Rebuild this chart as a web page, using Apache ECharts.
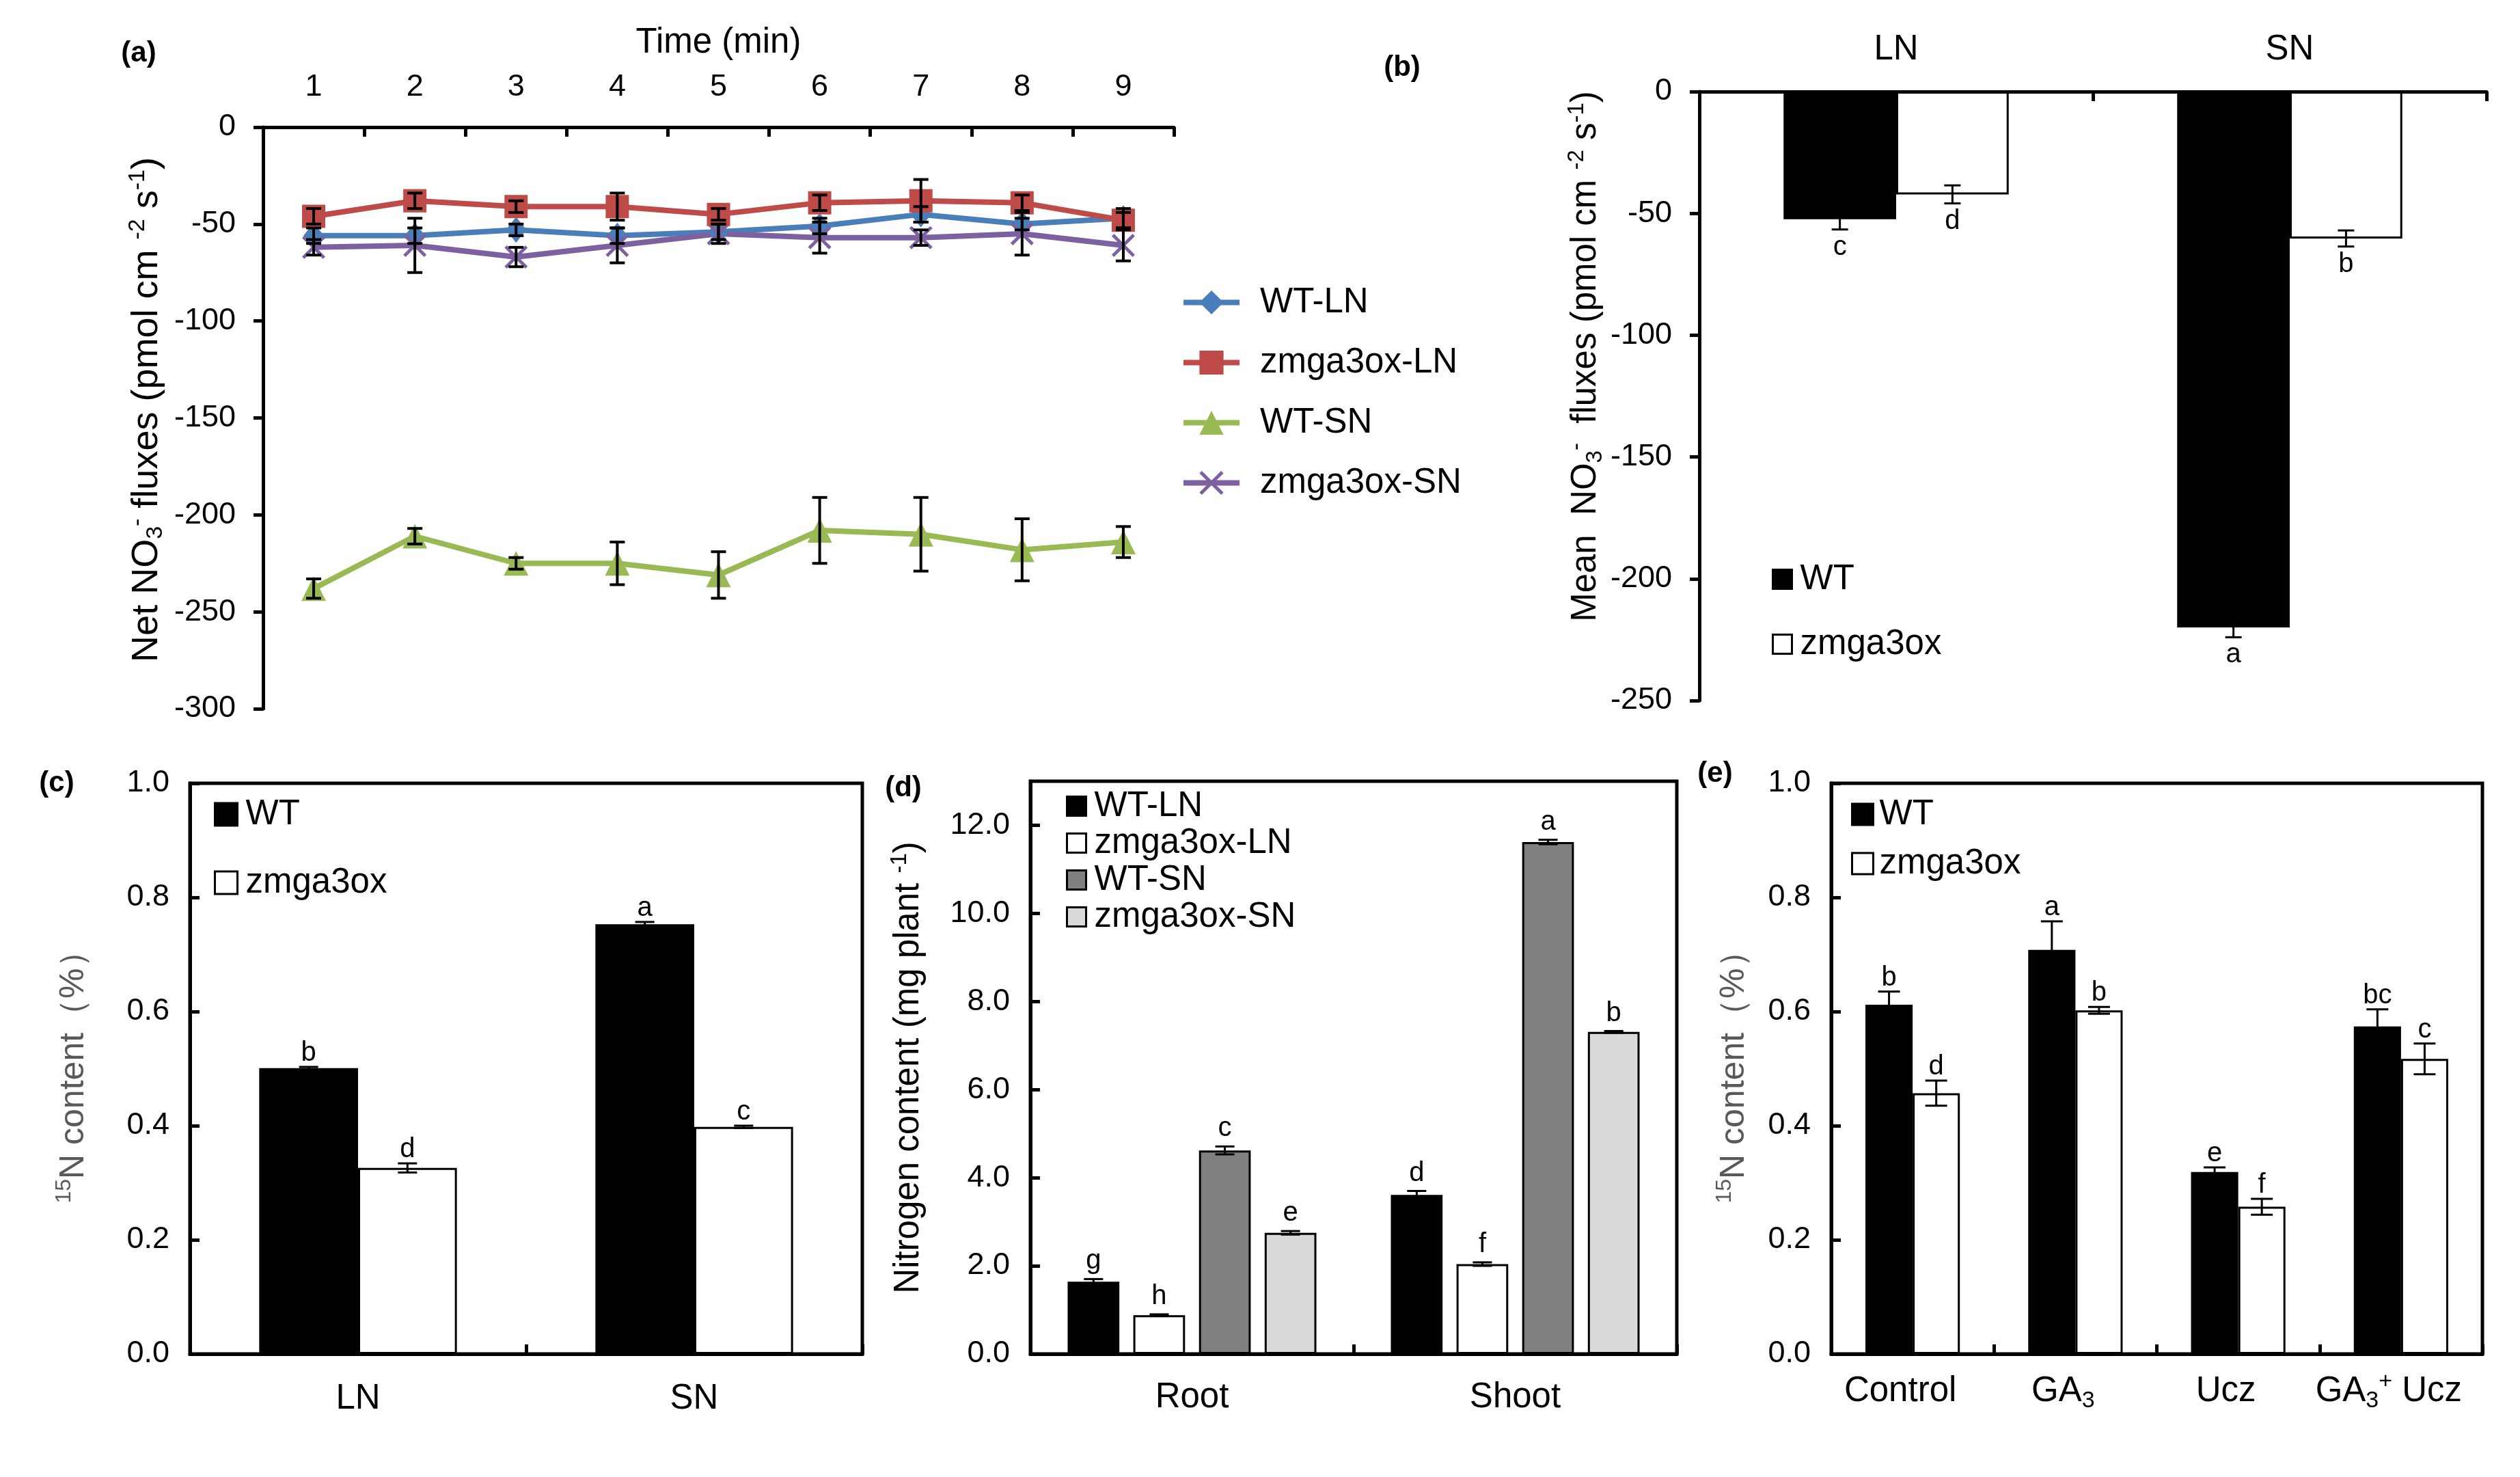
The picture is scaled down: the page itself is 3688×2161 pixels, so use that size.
<!DOCTYPE html>
<html><head><meta charset="utf-8">
<script src="https://cdn.jsdelivr.net/npm/echarts@6/dist/echarts.min.js"></script>
<style>html,body{margin:0;padding:0;background:#fff}#c{width:3688px;height:2161px}</style>
</head><body><div id="c"></div>
<script>
// ---------- data ----------
// (a) net NO3- flux time course
const timeLabels = ['1','2','3','4','5','6','7','8','9'];
const fluxWtLN = [-56, -56, -53, -56, -54, -51, -45, -50, -47];
const fluxZmLN = [-46, -38, -41, -41, -45, -39, -38, -39, -48];
const fluxWtSN = [-238, -211, -225, -225, -231, -208, -210, -218, -214];
const fluxZmSN = [-62, -61, -67, -61, -55, -57, -57, -55, -61];
const errWtLN = [4, 4, 3, 4, 4, 4, 4, 3, 5];
const errZmLN = [4, 4, 3, 7, 3, 4, 11, 4, 4];
const errWtSN = [5, 4, 3, 11, 12, 17, 19, 16, 8];
const errZmSN = [4, 14, 5, 9, 5, 8, 4, 11, 8];

// (b) mean NO3- flux
const bCats = ['LN', 'SN'];
const bWt = [-52.4, -220];
const bZm = [-42.2, -60.3];
const bErrWt = [4.2, 4];
const bErrZm = [3.7, 3.3];
const bLetWt = ['c', 'a'];
const bLetZm = ['d', 'b'];

// (c) 15N content
const cCats = ['LN', 'SN'];
const cWt = [0.501, 0.753];
const cZm = [0.326, 0.398];
const cErrWt = [0.002, 0.004];
const cErrZm = [0.008, 0.002];
const cLetWt = ['b', 'a'];
const cLetZm = ['d', 'c'];

// (d) nitrogen content
const dCats = ['Root', 'Shoot'];
const dWtLN = [1.64, 3.61];
const dZmLN = [0.88, 2.04];
const dWtSN = [4.62, 11.62];
const dZmSN = [2.75, 7.31];
const dErrWtLN = [0.06, 0.09];
const dErrZmLN = [0.02, 0.04];
const dErrWtSN = [0.09, 0.05];
const dErrZmSN = [0.04, 0.02];
const dLetWtLN = ['g', 'd'];
const dLetZmLN = ['h', 'f'];
const dLetWtSN = ['c', 'a'];
const dLetZmSN = ['e', 'b'];

// (e) 15N content with treatments
const eCats = ['Control', 'GA3', 'Ucz', 'GA3+Ucz'];
const eWt = [0.612, 0.708, 0.319, 0.574];
const eZm = [0.457, 0.602, 0.258, 0.517];
const eErrWt = [0.023, 0.05, 0.008, 0.03];
const eErrZm = [0.022, 0.006, 0.014, 0.027];
const eLetWt = ['b', 'a', 'e', 'bc'];
const eLetZm = ['d', 'b', 'f', 'c'];

// ---------- styling ----------
const FONT = '"Liberation Sans", Arial, Helvetica, sans-serif';
const FT = 45;   // tick labels
const FL = 51;   // legend / category / names
const AXW = 5;
const XMARK = 'path://M1,0 L5,4 L9,0 L10,1 L6,5 L10,9 L9,10 L5,6 L1,10 L0,9 L4,5 L0,1 Z';
function rich(color, fs) {
  fs = fs || 32;
  return {
    sub: {fontSize: fs, lineHeight: fs, verticalAlign: 'bottom', fontFamily: FONT, color: color},
    sup: {fontSize: fs, lineHeight: fs, verticalAlign: 'top', fontFamily: FONT, color: color}
  };
}

function errSeries(gi, vals, errs, letters, off, o) {
  const data = vals.map((v, i) => [i, v, errs[i]]);
  return {
    type: 'custom', xAxisIndex: gi, yAxisIndex: gi, z: 10, silent: true,
    data: data, encode: {x: 0, y: 1},
    renderItem: function (params, api) {
      const i = params.dataIndex;
      const ci = api.value(0), v = api.value(1), e = api.value(2);
      const bw = api.size([1, 0])[0];
      const x = api.coord([ci, v])[0] + off * bw;
      const yH = api.coord([ci, v + e])[1];
      const yL = api.coord([ci, v - e])[1];
      const st = {stroke: '#000', lineWidth: o.lw};
      const ch = [];
      if (e > 0) {
        ch.push({type: 'line', shape: {x1: x, y1: yH, x2: x, y2: yL}, style: st});
        ch.push({type: 'line', shape: {x1: x - o.cap, y1: yH, x2: x + o.cap, y2: yH}, style: st});
        ch.push({type: 'line', shape: {x1: x - o.cap, y1: yL, x2: x + o.cap, y2: yL}, style: st});
      }
      if (letters && letters[i]) {
        const neg = v < 0;
        ch.push({type: 'text', x: x, y: neg ? yL + o.gap : yH - o.gap,
          style: {text: letters[i], fill: '#000', fontSize: o.fs || 40, fontFamily: FONT,
            align: 'center', verticalAlign: neg ? 'top' : 'bottom',
            textAlign: 'center', textVerticalAlign: neg ? 'top' : 'bottom'}});
      }
      return {type: 'group', children: ch};
    }
  };
}

function catAxis(gi, cats, pos, extra) {
  return Object.assign({
    type: 'category', gridIndex: gi, data: cats, position: pos,
    axisLine: {show: true, onZero: false, lineStyle: {color: '#000', width: AXW}},
    axisTick: {show: true, inside: true, length: 14, lineStyle: {color: '#000', width: AXW}},
    axisLabel: {color: '#000', fontSize: FL, fontFamily: FONT, margin: 38, interval: 0},
    splitLine: {show: false}
  }, extra || {});
}
function valAxis(gi, min, max, interval, extra) {
  return Object.assign({
    type: 'value', gridIndex: gi, min: min, max: max, interval: interval,
    axisLine: {show: true, onZero: false, lineStyle: {color: '#000', width: AXW}},
    axisTick: {show: true, inside: false, length: 14, lineStyle: {color: '#000', width: AXW}},
    axisLabel: {color: '#000', fontSize: FT, fontFamily: FONT, margin: 40},
    splitLine: {show: false},
    nameLocation: 'middle', nameRotate: 90
  }, extra || {});
}

const whiteBar = {color: '#fff', borderColor: '#000', borderWidth: 3};
const blackBar = {color: '#000', borderColor: '#000', borderWidth: 3};
const greyBar = {color: '#808080', borderColor: '#000', borderWidth: 3};
const lightBar = {color: '#d9d9d9', borderColor: '#000', borderWidth: 3};
function legText(pad) { return {color: '#000', fontSize: FL, fontFamily: FONT, lineHeight: 50, padding: [0, 0, 0, pad]}; }
const strip = n => n.split(':').pop();
const fmt1 = v => v.toFixed(1);
const boxGrid = {show: true, borderColor: '#000', borderWidth: AXW, outerBoundsMode: 'none'};
const innerTick = {show: true, inside: true, length: 14, lineStyle: {color: '#000', width: AXW}};

const option = {
  backgroundColor: '#fff',
  animation: false,
  grid: [
    {left: 385, top: 186, width: 1333, height: 851, outerBoundsMode: 'none'},
    {left: 2487, top: 134, width: 1152, height: 891, outerBoundsMode: 'none'},
    Object.assign({left: 278, top: 1146, width: 984, height: 835}, boxGrid),
    Object.assign({left: 1508, top: 1143, width: 946, height: 838}, boxGrid),
    Object.assign({left: 2680, top: 1146, width: 953, height: 835}, boxGrid)
  ],
  xAxis: [
    catAxis(0, timeLabels, 'top', {name: 'Time (min)', nameLocation: 'middle', nameGap: 98,
      axisLabel: {color: '#000', fontSize: FT, fontFamily: FONT, margin: 36},
      nameTextStyle: {color: '#000', fontSize: FL, fontFamily: FONT}}),
    catAxis(1, bCats, 'top', {axisLabel: {color: '#000', fontSize: FL, fontFamily: FONT, margin: 36}}),
    catAxis(2, cCats, 'bottom', {axisLabel: {color: '#000', fontSize: FL, fontFamily: FONT, margin: 40}}),
    catAxis(3, dCats, 'bottom', {axisLabel: {color: '#000', fontSize: FL, fontFamily: FONT, margin: 38}}),
    catAxis(4, eCats, 'bottom', {axisLabel: {color: '#000', fontSize: FL, fontFamily: FONT, margin: 24, lineHeight: 62, interval: 0,
      padding: [0, 36, 0, 0],
      formatter: v => v === 'GA3' ? 'GA{sub|3}' : (v === 'GA3+Ucz' ? 'GA{sub|3}{sup|+} Ucz' : v),
      rich: rich('#000', 34)}})
  ],
  yAxis: [
    valAxis(0, -300, 0, 50, {
      name: 'Net NO{sub|3}{sup|-} fluxes (pmol cm {sup|-2} s{sup|-1})', nameGap: 140,
      nameTextStyle: {color: '#000', fontSize: 54, fontFamily: FONT, lineHeight: 60, padding: [0, 0, 0, 24], rich: rich('#000', 34)}}),
    valAxis(1, -250, 0, 50, {
      name: 'Mean  NO{sub|3}{sup|-}  fluxes (pmol cm {sup|-2} s{sup|-1})', nameGap: 136,
      nameTextStyle: {color: '#000', fontSize: 51, fontFamily: FONT, lineHeight: 60, padding: [0, 0, 0, 116], rich: rich('#000', 33)}}),
    valAxis(2, 0, 1, 0.2, {
      axisTick: innerTick,
      axisLabel: {color: '#000', fontSize: FT, fontFamily: FONT, margin: 30, formatter: fmt1},
      name: '{sup|15}N content（%）', nameGap: 140,
      nameTextStyle: {color: '#595959', fontSize: 50, fontFamily: FONT, lineHeight: 60, rich: rich('#595959', 32)}}),
    valAxis(3, 0, 13, 2, {
      axisTick: innerTick,
      axisLabel: {color: '#000', fontSize: FT, fontFamily: FONT, margin: 30, formatter: fmt1, showMaxLabel: false},
      name: 'Nitrogen content (mg plant {sup|-1})', nameGap: 148,
      nameTextStyle: {color: '#000', fontSize: 51, fontFamily: FONT, lineHeight: 60, rich: rich('#000', 33)}}),
    valAxis(4, 0, 1, 0.2, {
      axisTick: innerTick,
      axisLabel: {color: '#000', fontSize: FT, fontFamily: FONT, margin: 30, formatter: fmt1},
      name: '{sup|15}N content（%）', nameGap: 112,
      nameTextStyle: {color: '#595959', fontSize: 50, fontFamily: FONT, lineHeight: 60, rich: rich('#595959', 32)}})
  ],
  legend: [
    {data: ['WT-LN', 'zmga3ox-LN', 'WT-SN', 'zmga3ox-SN'], orient: 'vertical', left: 1728, top: 417, padding: 0,
      itemWidth: 82, itemHeight: 44, itemGap: 37, selectedMode: false, textStyle: legText(25),
      lineStyle: {width: 8}},
    {data: [{name: 'b:WT', itemStyle: blackBar}, {name: 'b:zmga3ox', itemStyle: whiteBar}], formatter: strip,
      orient: 'vertical', left: 2593, top: 822, padding: 0, icon: 'rect', itemWidth: 28, itemHeight: 28, itemGap: 44,
      selectedMode: false, textStyle: legText(7)},
    {data: [{name: 'c:WT', itemStyle: blackBar}, {name: 'c:zmga3ox', itemStyle: whiteBar}], formatter: strip,
      orient: 'vertical', left: 313, top: 1166, padding: 0, icon: 'rect', itemWidth: 33, itemHeight: 33, itemGap: 49,
      selectedMode: false, textStyle: legText(7)},
    {data: [{name: 'd:WT-LN', itemStyle: blackBar}, {name: 'd:zmga3ox-LN', itemStyle: whiteBar},
            {name: 'd:WT-SN', itemStyle: greyBar}, {name: 'd:zmga3ox-SN', itemStyle: lightBar}], formatter: strip,
      orient: 'vertical', left: 1560, top: 1154, padding: 0, icon: 'rect', itemWidth: 28, itemHeight: 28, itemGap: 3,
      selectedMode: false, textStyle: legText(7)},
    {data: [{name: 'e:WT', itemStyle: blackBar}, {name: 'e:zmga3ox', itemStyle: whiteBar}], formatter: strip,
      orient: 'vertical', left: 2709, top: 1166, padding: 0, icon: 'rect', itemWidth: 31, itemHeight: 31, itemGap: 21,
      selectedMode: false, textStyle: legText(4)}
  ],
  graphic: [
    {type: 'text', x: 203, y: 78, style: {text: '(a)', font: 'bold 42px ' + FONT, fill: '#000', align: 'center', verticalAlign: 'middle', textAlign: 'center', textVerticalAlign: 'middle'}},
    {type: 'text', x: 2052, y: 99, style: {text: '(b)', font: 'bold 42px ' + FONT, fill: '#000', align: 'center', verticalAlign: 'middle', textAlign: 'center', textVerticalAlign: 'middle'}},
    {type: 'text', x: 83, y: 1146, style: {text: '(c)', font: 'bold 42px ' + FONT, fill: '#000', align: 'center', verticalAlign: 'middle', textAlign: 'center', textVerticalAlign: 'middle'}},
    {type: 'text', x: 1322, y: 1153, style: {text: '(d)', font: 'bold 42px ' + FONT, fill: '#000', align: 'center', verticalAlign: 'middle', textAlign: 'center', textVerticalAlign: 'middle'}},
    {type: 'text', x: 2510, y: 1132, style: {text: '(e)', font: 'bold 42px ' + FONT, fill: '#000', align: 'center', verticalAlign: 'middle', textAlign: 'center', textVerticalAlign: 'middle'}}
  ],
  series: [
    // (a)
    {name: 'WT-LN', type: 'line', xAxisIndex: 0, yAxisIndex: 0, data: fluxWtLN, symbol: 'diamond', symbolSize: [30, 38],
      lineStyle: {color: '#4a7ebb', width: 8}, itemStyle: {color: '#4a7ebb'}, z: 3},
    {name: 'zmga3ox-LN', type: 'line', xAxisIndex: 0, yAxisIndex: 0, data: fluxZmLN, symbol: 'rect', symbolSize: 34,
      lineStyle: {color: '#be4b48', width: 8}, itemStyle: {color: '#be4b48'}, z: 4},
    {name: 'WT-SN', type: 'line', xAxisIndex: 0, yAxisIndex: 0, data: fluxWtSN, symbol: 'triangle', symbolSize: 36,
      lineStyle: {color: '#98b954', width: 8}, itemStyle: {color: '#98b954'}, z: 3},
    {name: 'zmga3ox-SN', type: 'line', xAxisIndex: 0, yAxisIndex: 0, data: fluxZmSN, symbol: XMARK, symbolSize: 34,
      lineStyle: {color: '#7d60a0', width: 8}, itemStyle: {color: '#7d60a0'}, z: 3},
    errSeries(0, fluxWtLN, errWtLN, null, 0, {lw: 4, cap: 11}),
    errSeries(0, fluxZmLN, errZmLN, null, 0, {lw: 4, cap: 11}),
    errSeries(0, fluxWtSN, errWtSN, null, 0, {lw: 4, cap: 11}),
    errSeries(0, fluxZmSN, errZmSN, null, 0, {lw: 4, cap: 11}),
    // (b)
    {name: 'b:WT', type: 'bar', xAxisIndex: 1, yAxisIndex: 1, data: bWt, barWidth: '28.6%', barGap: '0%', itemStyle: blackBar},
    {name: 'b:zmga3ox', type: 'bar', xAxisIndex: 1, yAxisIndex: 1, data: bZm, barWidth: '28.6%', barGap: '0%', itemStyle: whiteBar},
    errSeries(1, bWt, bErrWt, bLetWt, -0.143, {lw: 3, cap: 12, gap: 6}),
    errSeries(1, bZm, bErrZm, bLetZm, 0.143, {lw: 3, cap: 12, gap: 6}),
    // (c)
    {name: 'c:WT', type: 'bar', xAxisIndex: 2, yAxisIndex: 2, data: cWt, barWidth: '29.4%', barGap: '0%', itemStyle: blackBar},
    {name: 'c:zmga3ox', type: 'bar', xAxisIndex: 2, yAxisIndex: 2, data: cZm, barWidth: '29.4%', barGap: '0%', itemStyle: whiteBar},
    errSeries(2, cWt, cErrWt, cLetWt, -0.147, {lw: 3, cap: 14, gap: 0}),
    errSeries(2, cZm, cErrZm, cLetZm, 0.147, {lw: 3, cap: 14, gap: 0}),
    // (d)
    {name: 'd:WT-LN', type: 'bar', xAxisIndex: 3, yAxisIndex: 3, data: dWtLN, barWidth: '16%', barGap: '27%', itemStyle: blackBar},
    {name: 'd:zmga3ox-LN', type: 'bar', xAxisIndex: 3, yAxisIndex: 3, data: dZmLN, barWidth: '16%', barGap: '27%', itemStyle: whiteBar},
    {name: 'd:WT-SN', type: 'bar', xAxisIndex: 3, yAxisIndex: 3, data: dWtSN, barWidth: '16%', barGap: '27%', itemStyle: greyBar},
    {name: 'd:zmga3ox-SN', type: 'bar', xAxisIndex: 3, yAxisIndex: 3, data: dZmSN, barWidth: '16%', barGap: '27%', itemStyle: lightBar},
    errSeries(3, dWtLN, dErrWtLN, dLetWtLN, -0.3048, {lw: 3, cap: 14, gap: 6}),
    errSeries(3, dZmLN, dErrZmLN, dLetZmLN, -0.1016, {lw: 3, cap: 14, gap: 6}),
    errSeries(3, dWtSN, dErrWtSN, dLetWtSN, 0.1016, {lw: 3, cap: 14, gap: 6}),
    errSeries(3, dZmSN, dErrZmSN, dLetZmSN, 0.3048, {lw: 3, cap: 14, gap: 6}),
    // (e)
    {name: 'e:WT', type: 'bar', xAxisIndex: 4, yAxisIndex: 4, data: eWt, barWidth: '29%', barGap: '0%', itemStyle: blackBar},
    {name: 'e:zmga3ox', type: 'bar', xAxisIndex: 4, yAxisIndex: 4, data: eZm, barWidth: '29%', barGap: '0%', itemStyle: whiteBar},
    errSeries(4, eWt, eErrWt, eLetWt, -0.145, {lw: 3, cap: 16, gap: 0}),
    errSeries(4, eZm, eErrZm, eLetZm, 0.145, {lw: 3, cap: 16, gap: 0})
  ]
};

const chart = echarts.init(document.getElementById('c'), null, {renderer: 'canvas'});
chart.setOption(option);
</script>
</body></html>
